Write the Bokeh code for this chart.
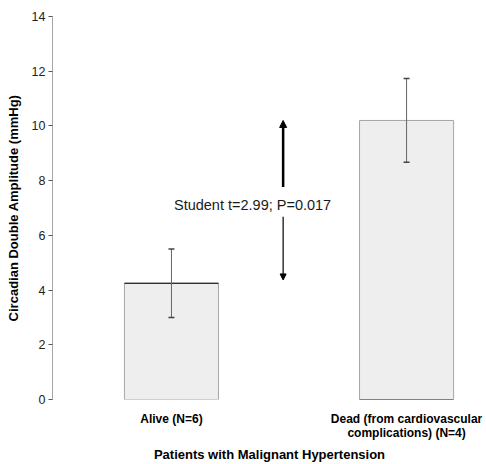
from bokeh.plotting import figure
from bokeh.models import ColumnDataSource, FixedTicker, Range1d, Whisker, Arrow, NormalHead, Label
from bokeh.embed import file_html
from bokeh.resources import INLINE

groups = ["Alive (N=6)", "Dead (from cardiovascular\ncomplications) (N=4)"]
xpos = [0, 1]
means = [4.25, 10.2]
errors = [1.25, 1.53]
y_ticks = [0, 2, 4, 6, 8, 10, 12, 14]
stat_text = "Student t=2.99; P=0.017"

FONT = "Liberation Sans"

src = ColumnDataSource(dict(
    x=xpos, top=means,
    lower=[m - e for m, e in zip(means, errors)],
    upper=[m + e for m, e in zip(means, errors)],
))

p = figure(width=486, height=464, output_backend="svg", toolbar_location=None,
           x_range=Range1d(-0.506, 1.34), y_range=Range1d(0, 14),
           min_border_left=52, min_border_right=0, min_border_top=16, min_border_bottom=64)
p.outline_line_color = None
p.xgrid.grid_line_color = None
p.ygrid.grid_line_color = None
p.background_fill_color = "white"

p.vbar(x="x", top="top", bottom=0, width=0.4, source=src,
       fill_color="#eeeeee", line_color="#a6a6a6", line_width=1)
# black top edge on the first bar, dark bottom edge on the second
p.segment(x0=[xpos[0] - 0.2], x1=[xpos[0] + 0.2], y0=[means[0]], y1=[means[0]],
          line_color="black", line_width=1.2)
p.segment(x0=[xpos[1] - 0.2], x1=[xpos[1] + 0.2], y0=[0], y1=[0],
          line_color="#333333", line_width=1.2)

w = Whisker(base="x", lower="lower", upper="upper", source=src,
            line_color="#666666", line_width=1, level="overlay")
w.upper_head.size = 6
w.lower_head.size = 6
w.upper_head.line_color = "#444444"
w.lower_head.line_color = "#444444"
w.upper_head.line_width = 1.5
w.lower_head.line_width = 1.5
p.add_layout(w)

ax = 0.475
p.add_layout(Arrow(end=NormalHead(size=7, fill_color="black", line_color="black"),
                   x_start=ax, y_start=7.77, x_end=ax, y_end=means[1],
                   line_width=2.5, line_color="black"))
p.add_layout(Arrow(end=NormalHead(size=6, fill_color="black", line_color="black"),
                   x_start=ax, y_start=6.68, x_end=ax, y_end=4.37,
                   line_width=1.2, line_color="black"))
p.add_layout(Label(x=0.345, y=7.11, text=stat_text, text_align="center",
                   text_baseline="middle", text_font=FONT, text_font_size="14.5px",
                   text_color="#1a1a1a"))

# y axis
p.yaxis.ticker = FixedTicker(ticks=y_ticks)
p.yaxis.axis_line_color = "#a6a6a6"
p.yaxis.major_tick_line_color = "#555555"
p.yaxis.major_tick_out = 4
p.yaxis.major_tick_in = 0
p.yaxis.minor_tick_line_color = None
p.yaxis.major_label_text_font = FONT
p.yaxis.major_label_text_font_size = "12.5px"
p.yaxis.major_label_text_color = "#222222"
p.yaxis.major_label_standoff = 3
p.yaxis.axis_label = "Circadian Double Amplitude (mmHg)"
p.yaxis.axis_label_text_font = FONT
p.yaxis.axis_label_text_font_size = "13px"
p.yaxis.axis_label_text_font_style = "bold"
p.yaxis.axis_label_text_color = "black"
p.yaxis.axis_label_standoff = 8

# x axis
p.xaxis.ticker = FixedTicker(ticks=xpos)
p.xaxis.major_label_overrides = {x: g for x, g in zip(xpos, groups)}
p.xaxis.axis_line_color = None
p.xaxis.major_tick_line_color = None
p.xaxis.minor_tick_line_color = None
p.xaxis.major_label_text_font = FONT
p.xaxis.major_label_text_font_size = "12px"
p.xaxis.major_label_text_font_style = "bold"
p.xaxis.major_label_text_color = "black"
p.xaxis.major_label_text_line_height = 1.0
p.xaxis.major_label_standoff = 6
p.xaxis.axis_label = "Patients with Malignant Hypertension"
p.xaxis.axis_label_text_font = FONT
p.xaxis.axis_label_text_font_size = "13px"
p.xaxis.axis_label_text_font_style = "bold"
p.xaxis.axis_label_text_color = "black"
p.xaxis.axis_label_standoff = 4

open("out.html", "w").write(file_html(p, INLINE))
